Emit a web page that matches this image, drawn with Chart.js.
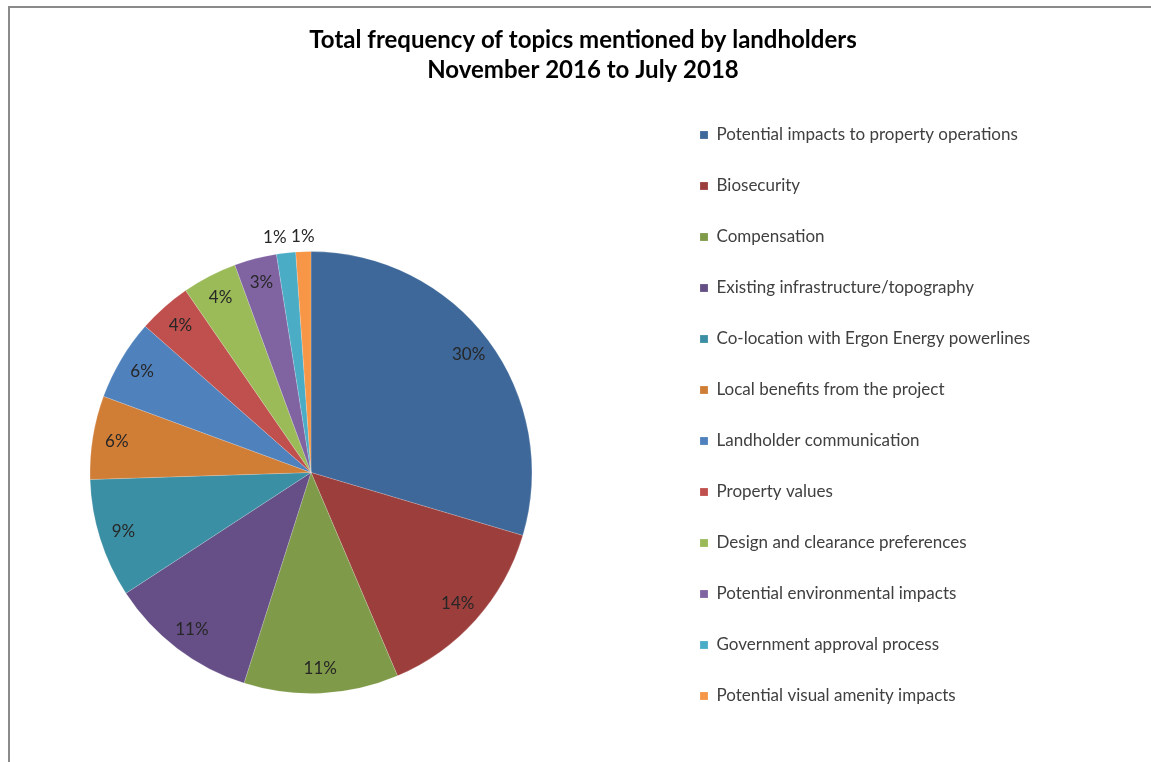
<!DOCTYPE html>
<html>
<head>
<meta charset="utf-8">
<script src="https://cdn.jsdelivr.net/npm/chart.js@4/dist/chart.umd.min.js"></script>
<style>
  html, body { margin: 0; padding: 0; background: #fff; overflow: hidden; }
  #frame {
    position: absolute; left: 8px; top: 6px; right: -10px; bottom: -10px;
    border-top: 2px solid #8a8a8a; border-left: 2px solid #8a8a8a;
  }
  #chart { position: absolute; left: 0; top: 0; }
</style>
</head>
<body>
<div id="frame"></div>
<canvas id="chart" width="1151" height="860"></canvas>
<script>
const titleLines = ['Total frequency of topics mentioned by landholders', 'November 2016 to July 2018']

const topics = [
  'Potential impacts to property operations',
  'Biosecurity',
  'Compensation',
  'Existing infrastructure/topography',
  'Co-location with Ergon Energy powerlines',
  'Local benefits from the project',
  'Landholder communication',
  'Property values',
  'Design and clearance preferences',
  'Potential environmental impacts',
  'Government approval process',
  'Potential visual amenity impacts',
]

// share of mentions, percent
const shares = [29.6, 14.0, 11.3, 10.9, 8.7, 6.1, 5.9, 3.9, 4.0, 3.1, 1.4, 1.1]

const sliceColors = [
  '#3e6899', '#9c3f3c', '#7f9a48', '#664f86', '#3b8fa4', '#d07d36',
  '#4f81bd', '#c0504d', '#9bbb59', '#8064a2', '#4bacc6', '#f79646',
]

const FONT = 'Lato, "Open Sans", sans-serif'
const LEGEND_SIZE = 17
const LEGEND_PAD = 34
const LEGEND_BOX = 8

// where things should land: pie centre x, title centre x, legend left edge
const PIE_X = 311
const TITLE_X = 583
const LEGEND_LEFT = 700 - LEGEND_PAD

// legend width the same way Chart.js fits it
const measure = document.createElement('canvas').getContext('2d')
measure.font = LEGEND_SIZE + 'px ' + FONT
const longest = Math.max(...topics.map(t => measure.measureText(t).width))
const legendWidth = 10 + LEGEND_PAD + LEGEND_BOX + LEGEND_SIZE / 2 + longest

const rightEdge = LEGEND_LEFT + legendWidth
const padLeft = 2 * TITLE_X - rightEdge
const padRight = 1151 - rightEdge
const gap = padLeft + LEGEND_LEFT - 2 * PIE_X

// empty box between the pie and the legend (display:false so it does not halve the legend's room)
const spacer = {
  id: 'spacer',
  beforeInit(chart) {
    const box = {
      position: 'right', weight: 0, fullSize: false, options: { display: false },
      left: 0, top: 0, right: 0, bottom: 0, width: 0, height: 0,
      isHorizontal() { return false },
      update(maxWidth, maxHeight) { this.width = gap; this.height = maxHeight },
      draw() {},
    }
    if (Chart.layouts) Chart.layouts.addBox(chart, box)
    else {
      box._layers = () => [{ z: 0, draw() {} }]
      chart.boxes.push(box)
    }
  }
}

// percent labels, inside the slice, outside for the tiny ones
const sliceLabels = {
  id: 'sliceLabels',
  afterDatasetsDraw(chart) {
    const ctx = chart.ctx
    const values = chart.data.datasets[0].data
    const total = values.reduce((a, b) => a + b, 0)
    const spots = []
    chart.getDatasetMeta(0).data.forEach((arc, i) => {
      const { x, y, startAngle, endAngle, outerRadius } = arc.getProps(['x', 'y', 'startAngle', 'endAngle', 'outerRadius'], true)
      const frac = values[i] / total
      const mid = (startAngle + endAngle) / 2
      const outside = frac < 0.02
      const r = outside ? outerRadius + 15 : outerRadius * 0.89
      spots.push({ text: Math.round(frac * 100) + '%', x: x + Math.cos(mid) * r, y: y + Math.sin(mid) * r, outside })
    })
    // keep outside labels from overlapping
    for (let i = spots.length - 1; i > 0; i--) {
      const a = spots[i - 1], b = spots[i]
      if (a.outside && b.outside && b.x - a.x < 28) a.x = b.x - 28
    }
    ctx.save()
    ctx.font = '17px ' + FONT
    ctx.fillStyle = '#262626'
    ctx.textAlign = 'center'
    ctx.textBaseline = 'middle'
    spots.forEach(s => ctx.fillText(s.text, s.x, s.y))
    ctx.restore()
  }
}

new Chart(document.getElementById('chart'), {
  type: 'pie',
  data: {
    labels: topics,
    datasets: [{
      data: shares,
      backgroundColor: sliceColors,
      borderColor: 'rgba(255,255,255,0.35)',
      borderWidth: 0.5,
      radius: 221,
    }]
  },
  options: {
    responsive: false,
    animation: false,
    layout: { padding: { left: padLeft, right: padRight, top: 0, bottom: 7.5 } },
    plugins: {
      title: {
        display: true,
        text: titleLines,
        color: '#000',
        font: { family: FONT, size: 24, weight: 'bold', lineHeight: '30px' },
        padding: { top: 25, bottom: 7.5 },
      },
      legend: {
        position: 'right',
        align: 'start',
        fullSize: false,
        labels: {
          color: '#404040',
          font: { family: FONT, size: LEGEND_SIZE },
          boxWidth: LEGEND_BOX,
          boxHeight: LEGEND_BOX,
          padding: LEGEND_PAD,
        }
      },
      tooltip: { enabled: false },
    }
  },
  plugins: [spacer, sliceLabels]
})
</script>
</body>
</html>
